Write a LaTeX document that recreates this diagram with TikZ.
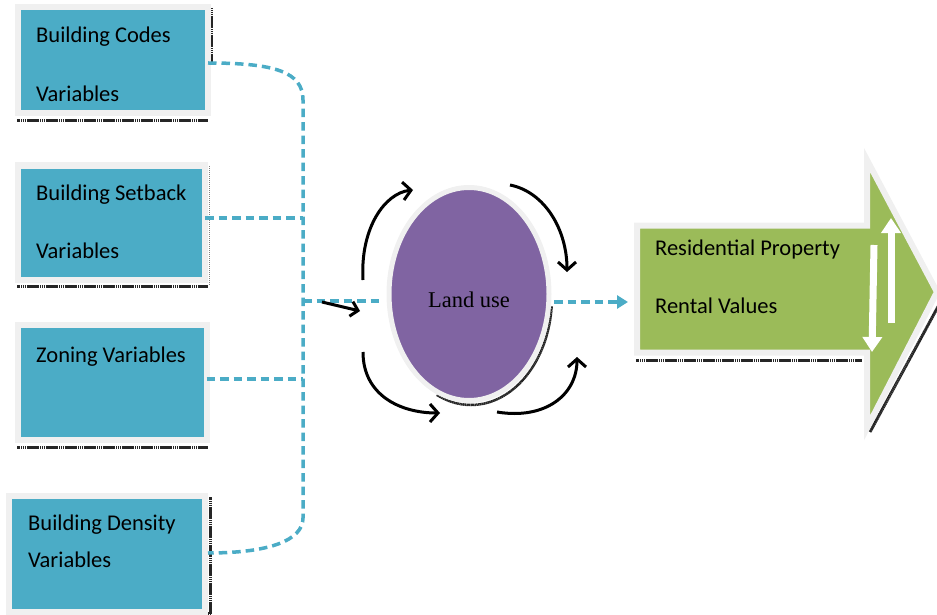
\documentclass[tikz,border=0pt]{standalone}
\usepackage{fontspec}
\setmainfont{Carlito}
\newfontfamily\lufont{Liberation Serif}
\usetikzlibrary{shapes.geometric,arrows.meta}
\definecolor{tealc}{HTML}{4BACC6}
\definecolor{purplec}{HTML}{8064A2}
\definecolor{greenc}{HTML}{9BBB59}
\definecolor{framec}{HTML}{F0F0F0}
\tikzset{
  varbox/.style={rectangle, draw=framec, line width=6pt, fill=tealc, outer sep=0pt, inner sep=0pt},
  lbl/.style={anchor=base west, inner sep=0pt, font=\fontsize{22.5}{27}\selectfont},
  conn/.style={draw=tealc, line width=3.5pt, dash pattern=on 8.5pt off 5pt},
  shadowline/.style={draw=black!85, line width=3pt, dash pattern=on 1.5pt off 0.4pt},
  cyc/.style={draw=black, line width=3pt, -{Straight Barb[length=8pt,width=18pt,line width=3pt]}},
}
\begin{document}
\begin{tikzpicture}[x=1pt,y=-1pt]
\useasboundingbox (0,0) rectangle (937,615);
% shadows of boxes
\draw[shadowline] (17,121) -- (208,121);
\draw[shadowline] (211,8) -- (211,62);
\draw[shadowline] (17,286) -- (208,286);
\draw[black!50, line width=1pt, densely dotted] (209,166) -- (209,285);
\draw[shadowline] (17,447) -- (208,447);
\draw[shadowline] (10,613) -- (210,613);
\draw[shadowline] (210,497) -- (210,613);
% boxes
\node[varbox, minimum width=190pt, minimum height=106pt] (b1) at (113,60.5) {};
\node[varbox, minimum width=187pt, minimum height=114.5pt] (b2) at (111.5,222.75) {};
\node[varbox, minimum width=188.5pt, minimum height=115pt] (b3) at (112.25,382.5) {};
\node[varbox, minimum width=196pt, minimum height=116.5pt] (b4) at (107,553.75) {};
\node[lbl] (t1a) at (36,43) {Building Codes};
\node[lbl] (t1b) at (36,102) {Variables};
\node[lbl] (t2a) at (36,200) {Building Setback};
\node[lbl] (t2b) at (36,258) {Variables};
\node[lbl] (t3a) at (36,362) {Zoning Variables};
\node[lbl] (t4a) at (28,530) {Building Density};
\node[lbl] (t4b) at (28,567) {Variables};
% trunk coordinates
\coordinate (k1) at (303,100);
\coordinate (k2) at (303,518);
\coordinate (kin) at (303,301);
% connectors
\draw[conn] ([yshift=-2.5pt]b1.east) .. controls (275,63) and (303,72) .. (k1) -- (k2)
  .. controls (303,540) and (270,553) .. ([xshift=3pt]b4.east |- 0,553);
\draw[conn] (b2.east |- 0,218) -- (k1 |- 0,218);
\draw[conn] (b3.east |- 0,379) -- (k1 |- 0,379);
% land use ellipse
\draw[shadowline, line width=2.5pt] (471,297) ++(5:81 and 108) arc[start angle=5, end angle=115, x radius=81, y radius=108];
\node[ellipse, draw=framec, line width=5pt, fill=purplec, outer sep=0pt, minimum width=160pt, minimum height=213pt, text height=26pt, text depth=0pt, font=\lufont\fontsize{22.5}{26}\selectfont] (lu) at (469,294) {Land use\hspace{8pt}};
\draw[conn] (kin) -- ([xshift=-9pt]lu.west |- kin);
\coordinate (ga) at (628,302);
\draw[conn, -{Triangle[length=11pt,width=13pt]}] ([xshift=5pt]lu.east |- ga) -- (ga);
% small black arrow
\draw[draw=black, line width=3pt, -{Straight Barb[length=7pt,width=15pt,line width=3pt]}] (322,302) -- (360,311);
% cycle arrows
\draw[cyc] (363,280) .. controls (360,228) and (385,193) .. (413,190);
\draw[cyc] (510,185) .. controls (545,192) and (567,230) .. (567,272);
\draw[cyc] (363,352) .. controls (363,395) and (400,413) .. (440,413);
\draw[cyc] (497,412) .. controls (545,420) and (577,395) .. (577,357);
% green arrow
\draw[shadowline] (636,360) -- (862,360);
\draw[shadowline] (940,303) -- (870,432);
\draw[shadowline, line width=1.5pt] (865,155) -- (865,160);
\draw[draw=framec, line width=6pt, fill=greenc, line join=miter]
  (637,225.5) -- (867,225.5) -- (867,160) -- (937,292) -- (867,428) -- (867,352.5) -- (637,352.5) -- cycle;
\node[lbl] (r1) at (655,255) {Residential Property};
\node[lbl] (r2) at (655,313) {Rental Values};
\draw[white, line width=7pt, -{Triangle[length=15pt,width=19pt]}] (891,323) -- (891,218);
\draw[white, line width=7pt, -{Triangle[length=15pt,width=19pt]}] (874,245) -- (872,352);
\end{tikzpicture}
\end{document}
